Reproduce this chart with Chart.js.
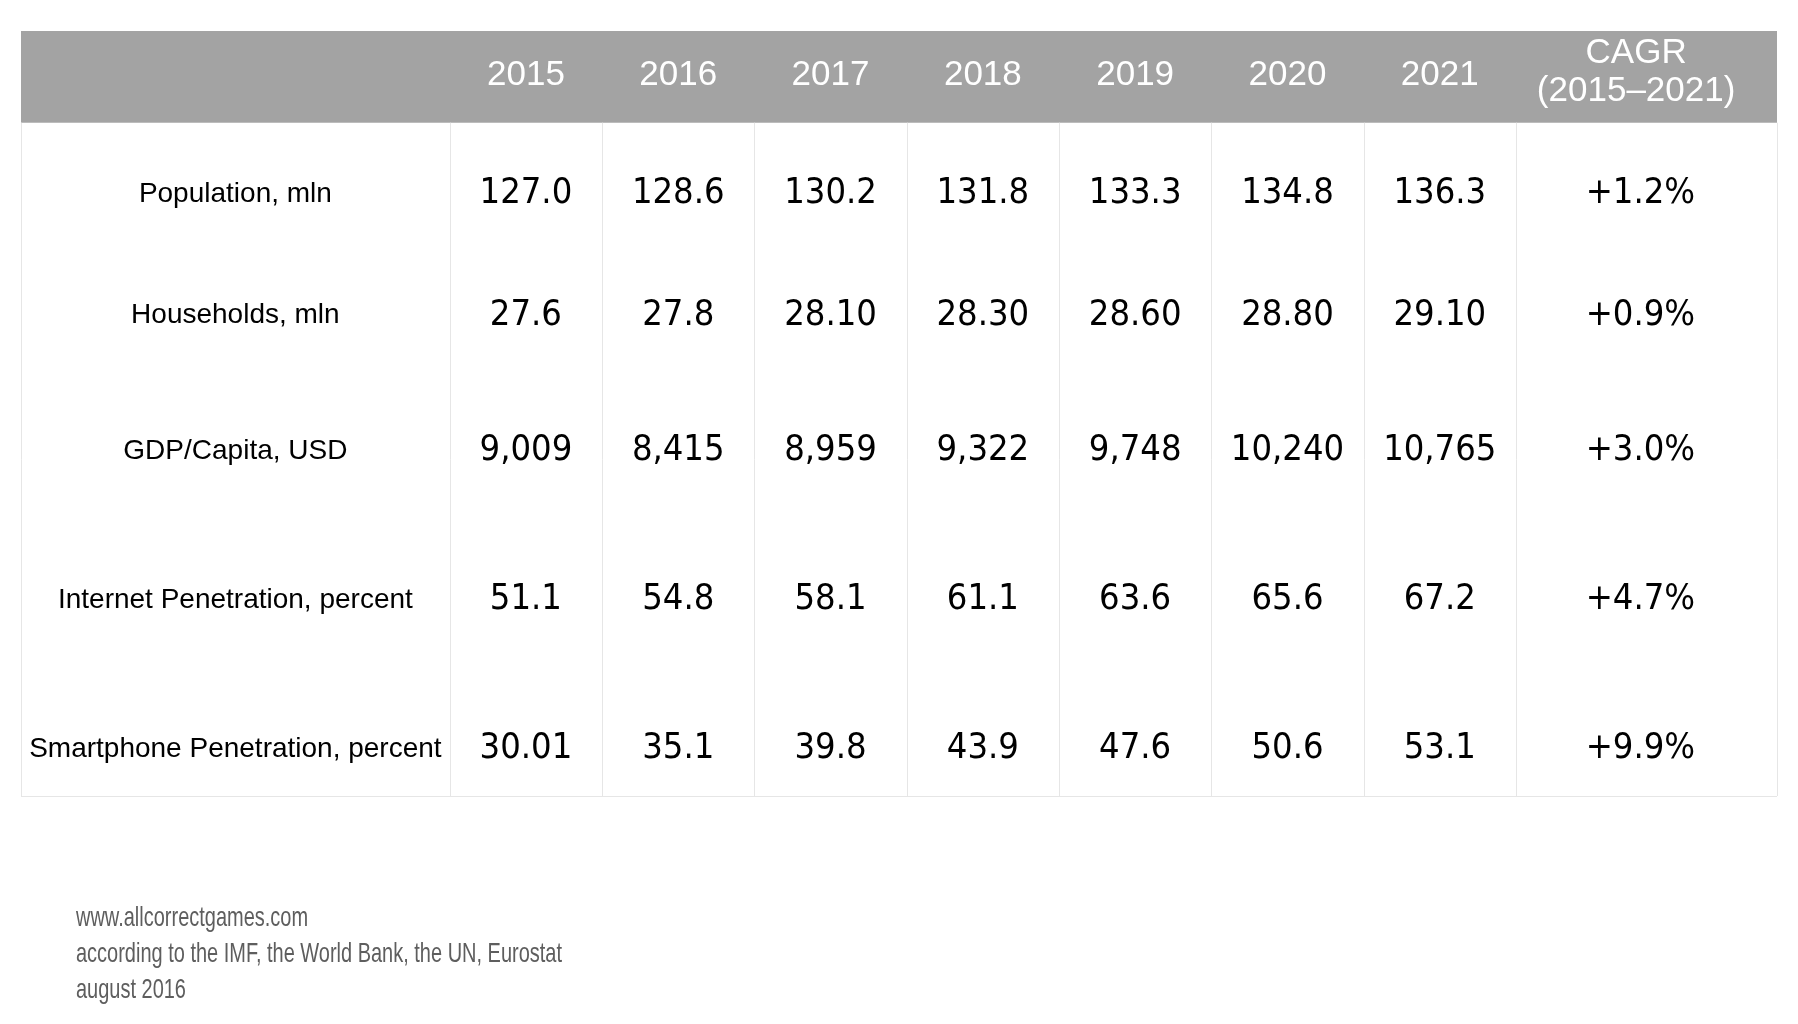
<!DOCTYPE html>
<html>
<head>
<meta charset="utf-8">
<script src="https://cdn.jsdelivr.net/npm/chart.js@4.4.1/dist/chart.umd.min.js"></script>
<style>
  html, body { margin: 0; padding: 0; background: #ffffff; }
  #wrap { width: 1798px; height: 1024px; position: relative; }
</style>
</head>
<body>
<div id="wrap"><canvas id="c" width="1798" height="1024"></canvas></div>
<script>
// ---------- DATA ----------
const years = ['2015', '2016', '2017', '2018', '2019', '2020', '2021'];
const cagrHeader = ['CAGR', '(2015\u20132021)'];
const rowLabels = [
  'Population, mln',
  'Households, mln',
  'GDP/Capita, USD',
  'Internet Penetration, percent',
  'Smartphone Penetration, percent'
];
const population = ['127.0', '128.6', '130.2', '131.8', '133.3', '134.8', '136.3'];
const households = ['27.6', '27.8', '28.10', '28.30', '28.60', '28.80', '29.10'];
const gdpPerCapita = ['9,009', '8,415', '8,959', '9,322', '9,748', '10,240', '10,765'];
const internetPen = ['51.1', '54.8', '58.1', '61.1', '63.6', '65.6', '67.2'];
const smartphonePen = ['30.01', '35.1', '39.8', '43.9', '47.6', '50.6', '53.1'];
const cagr = ['+1.2%', '+0.9%', '+3.0%', '+4.7%', '+9.9%'];
const footerLines = [
  'www.allcorrectgames.com',
  'according to the IMF, the World Bank, the UN, Eurostat',
  'august 2016'
];

// ---------- LAYOUT (scale units) ----------
const labelColW = 2.815;          // width of label column in year-column units
const cagrColW = 1.714;           // width of CAGR column
const xMax = labelColW + years.length + cagrColW;
const headerBottom = 11.99;       // y units, total height 100
const rowCenters = [21.29, 37.18, 54.88, 74.36, 93.85];
const headerTextY = 5.83;
const cagrLineY = [2.93, 7.85];
const cagrHeadX = labelColW + years.length + cagrColW / 2 - 0.068;
const cagrBodyX = labelColW + years.length + cagrColW / 2 - 0.04;

const rows = [population, households, gdpPerCapita, internetPen, smartphonePen];

// Build cell points
const colCenter = i => labelColW + i + 0.5;
const cells = [];
rows.forEach((vals, r) => {
  vals.forEach((v, c) => cells.push({ x: colCenter(c), y: rowCenters[r], text: v, kind: 'num' }));
  cells.push({ x: cagrBodyX, y: rowCenters[r], text: cagr[r], kind: 'num' });
  cells.push({ x: labelColW / 2, y: rowCenters[r], text: rowLabels[r], kind: 'label' });
});
const headerCells = years.map((y, i) => ({ x: colCenter(i), y: headerTextY, text: y, kind: 'head' }));
cagrHeader.forEach((t, i) => headerCells.push({ x: cagrHeadX, y: cagrLineY[i], text: t, kind: 'head' }));

const FONT_NUM = '"DejaVu Sans Condensed", "DejaVu Sans", sans-serif';
const FONT_LAB = '"Liberation Sans", Arial, sans-serif';

const tablePlugin = {
  id: 'tablePlugin',
  beforeDatasetsDraw(chart) {
    const { ctx, scales: { x, y } } = chart;
    const L = x.getPixelForValue(0), R = x.getPixelForValue(xMax);
    const T = y.getPixelForValue(0), HB = y.getPixelForValue(headerBottom), B = y.getPixelForValue(100);
    ctx.save();
    ctx.fillStyle = '#a3a3a3';
    ctx.fillRect(L, T, R - L, HB - T);
    ctx.strokeStyle = '#e6e6e6';
    ctx.lineWidth = 1;
    const bounds = [0];
    for (let i = 0; i <= years.length; i++) bounds.push(labelColW + i);
    bounds.push(xMax);
    bounds.forEach(b => {
      const px = Math.round(x.getPixelForValue(b)) + 0.5;
      ctx.beginPath(); ctx.moveTo(px, HB); ctx.lineTo(px, B); ctx.stroke();
    });
    ctx.beginPath();
    ctx.moveTo(L, Math.round(B) + 0.5); ctx.lineTo(R, Math.round(B) + 0.5); ctx.stroke();
    ctx.restore();
  },
  afterDatasetsDraw(chart) {
    const { ctx } = chart;
    ctx.save();
    ctx.textAlign = 'center';
    ctx.textBaseline = 'middle';
    chart.data.datasets.forEach((ds, di) => {
      const meta = chart.getDatasetMeta(di);
      meta.data.forEach((pt, i) => {
        const cell = ds.data[i];
        if (cell.kind === 'head') { ctx.fillStyle = '#ffffff'; ctx.font = '35px ' + FONT_LAB; }
        else if (cell.kind === 'label') { ctx.fillStyle = '#000000'; ctx.font = '28px ' + FONT_LAB; }
        else { ctx.fillStyle = '#000000'; ctx.font = '36px ' + FONT_NUM; }
        ctx.fillText(cell.text, pt.x, pt.y);
      });
    });
    // footer (condensed by horizontal scaling to fit the reference width)
    ctx.textAlign = 'left';
    ctx.fillStyle = '#5e5e5e';
    ctx.font = '28px "Liberation Sans", Arial, sans-serif';
    const targetW = 486;
    const sx = targetW / ctx.measureText(footerLines[1]).width;
    footerLines.forEach((t, i) => {
      ctx.save();
      ctx.translate(76, 918.5 + i * 35.8);
      ctx.scale(sx, 1);
      ctx.fillText(t, 0, 0);
      ctx.restore();
    });
    ctx.restore();
  }
};

new Chart(document.getElementById('c'), {
  type: 'scatter',
  data: {
    datasets: [
      { data: headerCells, pointRadius: 0, pointHoverRadius: 0 },
      { data: cells, pointRadius: 0, pointHoverRadius: 0 }
    ]
  },
  options: {
    responsive: false,
    animation: false,
    events: [],
    layout: { padding: { left: 21, right: 21, top: 31, bottom: 228 } },
    plugins: { legend: { display: false }, tooltip: { enabled: false }, title: { display: false } },
    scales: {
      x: { type: 'linear', min: 0, max: xMax, display: false },
      y: { type: 'linear', min: 0, max: 100, reverse: true, display: false }
    }
  },
  plugins: [tablePlugin]
});
</script>
</body>
</html>
